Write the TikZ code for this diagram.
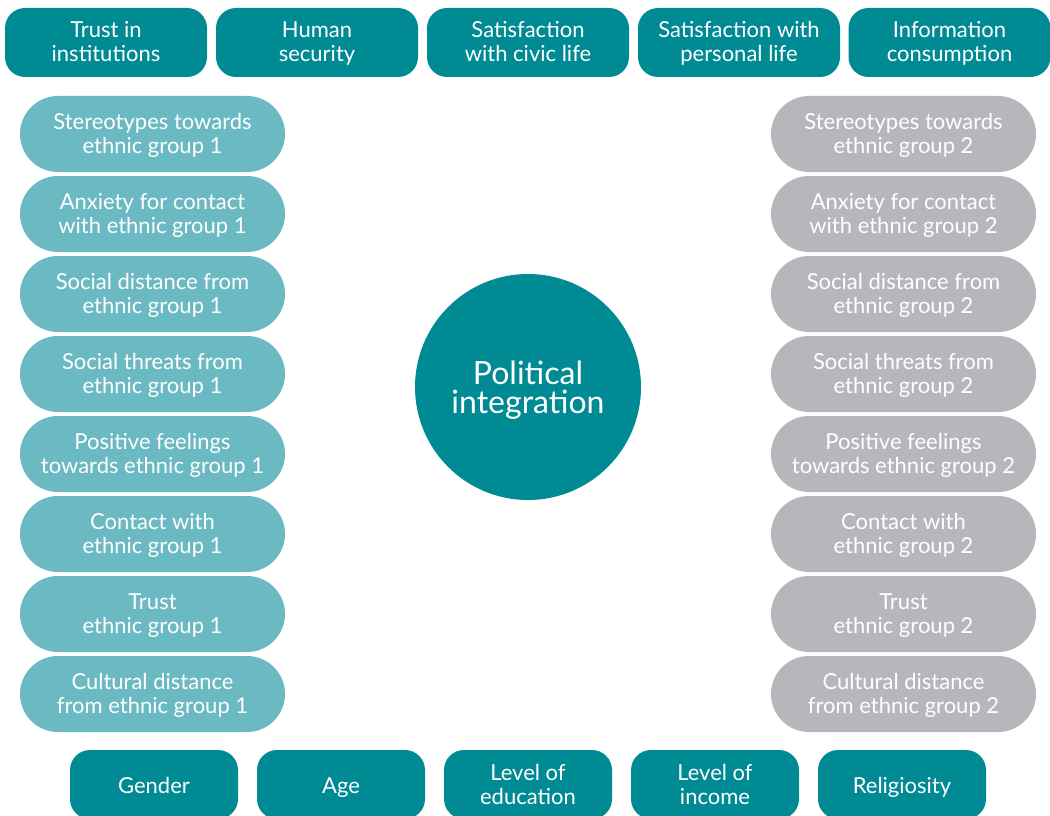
\documentclass[tikz,border=0pt]{standalone}
\usepackage{fontspec}
\setmainfont{Lato}
\usetikzlibrary{shapes.misc}
\definecolor{tealdark}{RGB}{0,138,148}
\definecolor{teallight}{RGB}{107,185,194}
\definecolor{greypill}{RGB}{182,183,187}
\tikzset{
  boxtext/.style={text=white, align=center, inner sep=0pt, font=\fontsize{22}{24}\selectfont,
    execute at end node={\rule[-6pt]{0pt}{6pt}}},
  twoline/.style={execute at begin node={\rule{0pt}{45pt}}},
  singleline/.style={execute at begin node={\rule{0pt}{23pt}}},
  topbox/.style={boxtext, twoline, rectangle, rounded corners=20pt, fill=tealdark, minimum width=202pt, minimum height=69pt},
  basebox/.style={boxtext, rectangle, rounded corners=20pt, fill=tealdark, minimum width=168pt, minimum height=69pt},
  pillone/.style={boxtext, twoline, rounded rectangle, fill=teallight, minimum width=265pt, minimum height=76pt},
  pilltwo/.style={boxtext, twoline, rounded rectangle, fill=greypill, minimum width=265pt, minimum height=76pt},
  hub/.style={circle, fill=tealdark, text=white, align=center, minimum size=226pt, inner sep=0pt, font=\fontsize{32}{29}\selectfont,
    execute at begin node={\rule{0pt}{59pt}}, execute at end node={\rule[-6.5pt]{0pt}{6.5pt}}}
}

\begin{document}
\begin{tikzpicture}[x=1pt, y=-1pt]
		%%%%% FRAME %%%%%
		\useasboundingbox (0, 0) rectangle (1050, 816);
		\clip (0, 0) rectangle (1050, 816);
		
		%%%%% TOP ROW %%%%%
		\node[topbox] (trust) at (106, 42.5) {Trust in\\institutions};
		\node[topbox] (security) at (317, 42.5) {Human\\security};
		\node[topbox] (civic) at (528, 42.5) {Satisfaction\\with civic life};
		\node[topbox] (personal) at (739, 42.5) {Satisfaction with\\personal life};
		\node[topbox] (info) at (949.5, 42.5) {Information\\consumption};
		
		%%%%% GROUP 1 %%%%%
		\node[pillone] (stereoA) at (152.5, 134) {Stereotypes towards\\ethnic group 1};
		\node[pillone] (anxietyA) at (152.5, 214) {Anxiety for contact\\with ethnic group 1};
		\node[pillone] (socdistA) at (152.5, 294) {Social distance from\\ethnic group 1};
		\node[pillone] (threatA) at (152.5, 374) {Social threats from\\ethnic group 1};
		\node[pillone] (feelA) at (152.5, 454) {Positive feelings\\towards ethnic group 1};
		\node[pillone] (contactA) at (152.5, 534) {Contact with\\ethnic group 1};
		\node[pillone] (trustA) at (152.5, 614) {Trust\\ethnic group 1};
		\node[pillone] (culturA) at (152.5, 694) {Cultural distance\\from ethnic group 1};
		
		%%%%% GROUP 2 %%%%%
		\node[pilltwo] (stereoB) at (903.5, 134) {Stereotypes towards\\ethnic group 2};
		\node[pilltwo] (anxietyB) at (903.5, 214) {Anxiety for contact\\with ethnic group 2};
		\node[pilltwo] (socdistB) at (903.5, 294) {Social distance from\\ethnic group 2};
		\node[pilltwo] (threatB) at (903.5, 374) {Social threats from\\ethnic group 2};
		\node[pilltwo] (feelB) at (903.5, 454) {Positive feelings\\towards ethnic group 2};
		\node[pilltwo] (contactB) at (903.5, 534) {Contact with\\ethnic group 2};
		\node[pilltwo] (trustB) at (903.5, 614) {Trust\\ethnic group 2};
		\node[pilltwo] (culturB) at (903.5, 694) {Cultural distance\\from ethnic group 2};
		
		%%%%% CENTRE %%%%%
		\node[hub] (political) at (528, 387) {Political\\integration};
		
		%%%%% BOTTOM ROW %%%%%
		\node[basebox, singleline] (gender) at (154, 784.5) {Gender};
		\node[basebox, singleline] (age) at (341, 784.5) {Age};
		\node[basebox, twoline] (education) at (528, 784.5) {Level of\\education};
		\node[basebox, twoline] (income) at (715, 784.5) {Level of\\income};
		\node[basebox, singleline] (religion) at (902, 784.5) {Religiosity};
		
		%%%%% END %%%%%
	\end{tikzpicture}
\end{document}
